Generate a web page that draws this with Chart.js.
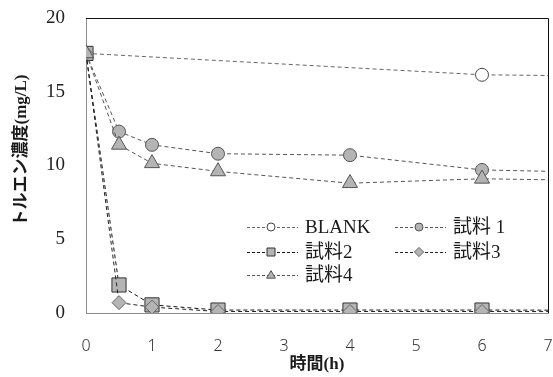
<!DOCTYPE html>
<html>
<head>
<meta charset="utf-8">
<script src="https://cdn.jsdelivr.net/npm/chart.js@4/dist/chart.umd.min.js"></script>
<style>
  html, body { margin: 0; padding: 0; background: #ffffff; }
  #wrap { width: 553px; height: 377px; position: relative; }
</style>
</head>
<body>
<div id="wrap"><canvas id="c"></canvas></div>
<script>
// Toluene concentration over time for each sample
const seriesNames = ['BLANK', '試料 1', '試料2', '試料3', '試料4'];
const blankTimes = [0, 6, 24];
const blankValues = [17.6, 16.15, 15.3];
const sampleTimes = [0, 0.5, 1, 2, 4, 6, 24];
const sample1Values = [17.6, 12.3, 11.4, 10.8, 10.7, 9.7, 8.0];
const sample2Values = [17.6, 1.9, 0.55, 0.2, 0.2, 0.2, 0.1];
const sample3Values = [17.6, 0.7, 0.4, 0.1, 0.1, 0.1, 0.05];
const sample4Values = [17.6, 11.4, 10.15, 9.6, 8.8, 9.1, 7.9];
const xTickValues = [0, 1, 2, 3, 4, 5, 6, 7];
const yTickValues = [0, 5, 10, 15, 20];
const xTitle = '時間(h)';
const yTitle = 'トルエン濃度(mg/L)';

const MARKER_FILL = '#b4b4b4';
const SERIF = '"Liberation Serif", "Noto Sans CJK JP", serif';

function toPoints(times, values) {
  return times.map((t, i) => ({ x: t, y: values[i] }));
}

function series(label, times, values, style) {
  return Object.assign({
    label: label,
    data: toPoints(times, values),
    borderWidth: 1,
    borderDash: [4, 3],
    pointBorderWidth: 1,
    pointHoverRadius: 0,
    tension: 0,
    fill: false
  }, style);
}

const datasets = [
  series(seriesNames[0], blankTimes, blankValues, {
    borderColor: '#666', pointStyle: 'circle', pointRadius: 6.5,
    pointBackgroundColor: '#ffffff', pointBorderColor: '#444', order: 5
  }),
  series(seriesNames[1], sampleTimes, sample1Values, {
    borderColor: '#555', pointStyle: 'circle', pointRadius: 6.5,
    pointBackgroundColor: MARKER_FILL, pointBorderColor: '#555', order: 4
  }),
  series(seriesNames[2], sampleTimes, sample2Values, {
    borderColor: '#111', pointStyle: 'rect', pointRadius: 10,
    pointBackgroundColor: MARKER_FILL, pointBorderColor: '#333', order: 3
  }),
  series(seriesNames[3], sampleTimes, sample3Values, {
    borderColor: '#222', pointStyle: 'rectRot', pointRadius: 7,
    pointBackgroundColor: MARKER_FILL, pointBorderColor: '#666', order: 2
  }),
  series(seriesNames[4], sampleTimes, sample4Values, {
    borderColor: '#555', pointStyle: 'triangle', pointRadius: 8.7,
    pointBackgroundColor: MARKER_FILL, pointBorderColor: '#555', order: 1
  })
];

// small marker painter for the legend samples
function paintMarker(ctx, style, x, y, r) {
  ctx.beginPath();
  if (style === 'circle') {
    ctx.arc(x, y, r, 0, Math.PI * 2);
  } else if (style === 'rect') {
    ctx.rect(x - r, y - r, 2 * r, 2 * r);
  } else if (style === 'rectRot') {
    ctx.moveTo(x, y - r * 1.15); ctx.lineTo(x + r * 1.15, y);
    ctx.lineTo(x, y + r * 1.15); ctx.lineTo(x - r * 1.15, y);
    ctx.closePath();
  } else if (style === 'triangle') {
    ctx.moveTo(x, y - r * 1.1); ctx.lineTo(x + r * 1.1, y + r * 0.8);
    ctx.lineTo(x - r * 1.1, y + r * 0.8); ctx.closePath();
  }
  ctx.fill();
  ctx.stroke();
}

const framePlugin = {
  id: 'frame',
  beforeDatasetsDraw(chart) {
    const { ctx, chartArea: a } = chart;
    ctx.save();
    ctx.strokeStyle = '#111';
    ctx.lineWidth = 1;
    ctx.beginPath();
    ctx.moveTo(a.left, a.top + 0.5);
    ctx.lineTo(a.right + 0.5, a.top + 0.5);
    ctx.lineTo(a.right + 0.5, a.bottom);
    ctx.stroke();
    ctx.restore();
  },
  afterDraw(chart) {
    const { ctx, chartArea: a } = chart;
    ctx.save();
    // vertical axis title
    ctx.translate(22, (a.top + a.bottom) / 2 - 15);
    ctx.rotate(-Math.PI / 2);
    ctx.font = 'bold 17px ' + SERIF;
    ctx.fillStyle = '#1a1a1a';
    ctx.textAlign = 'center';
    ctx.textBaseline = 'middle';
    ctx.fillText(yTitle, 0, 0);
    ctx.restore();

    // legend in the lower right of the plot
    const cols = [161, 309];
    const rows = [209, 234, 257];
    const slots = [[0, 0], [1, 0], [0, 1], [1, 1], [0, 2]];
    chart.data.datasets.forEach((ds, i) => {
      const x0 = a.left + cols[slots[i][0]];
      const y = a.top + rows[slots[i][1]];
      ctx.save();
      ctx.strokeStyle = ds.borderColor;
      ctx.lineWidth = 1;
      ctx.setLineDash([3, 2]);
      ctx.beginPath();
      ctx.moveTo(x0, y + 0.5);
      ctx.lineTo(x0 + 51, y + 0.5);
      ctx.stroke();
      ctx.setLineDash([]);
      ctx.fillStyle = ds.pointBackgroundColor;
      ctx.strokeStyle = ds.pointBorderColor;
      paintMarker(ctx, ds.pointStyle, x0 + 24, y, 4);
      ctx.fillStyle = '#1a1a1a';
      ctx.font = '19px ' + SERIF;
      ctx.textAlign = 'left';
      ctx.textBaseline = 'middle';
      ctx.fillText(ds.label, x0 + 58, y + 1);
      ctx.restore();
    });
  }
};

new Chart(document.getElementById('c'), {
  type: 'line',
  data: { datasets: datasets },
  plugins: [framePlugin],
  options: {
    responsive: true,
    maintainAspectRatio: false,
    animation: false,
    events: [],
    layout: { autoPadding: false, padding: { top: 18, right: 5, left: 0, bottom: 0 } },
    plugins: { legend: { display: false }, tooltip: { enabled: false } },
    scales: {
      x: {
        type: 'linear',
        min: 0, max: 7,
        afterFit(s) { s.height = 64; s.paddingLeft = 0; s.paddingRight = 0; },
        afterBuildTicks(s) { s.ticks = xTickValues.map(v => ({ value: v })); },
        grid: { display: false, drawTicks: false },
        border: { display: true, color: '#8c8c8c', width: 1 },
        ticks: {
          padding: 24,
          color: '#333',
          font: { family: '"Noto Sans", sans-serif', size: 16, weight: 300 }
        },
        title: {
          display: true, text: xTitle, color: '#1a1a1a',
          font: { family: SERIF, size: 17, weight: 'bold' },
          padding: { top: 0, bottom: 2 }
        }
      },
      y: {
        min: 0, max: 20,
        afterFit(s) { s.width = 86; s.paddingTop = 0; s.paddingBottom = 0; },
        afterBuildTicks(s) { s.ticks = yTickValues.map(v => ({ value: v })); },
        grid: { display: false, drawTicks: false },
        border: { display: true, color: '#8c8c8c', width: 1 },
        ticks: {
          padding: 21,
          color: '#222',
          font: { family: '"Liberation Serif", serif', size: 19 }
        }
      }
    }
  }
});
</script>
</body>
</html>
